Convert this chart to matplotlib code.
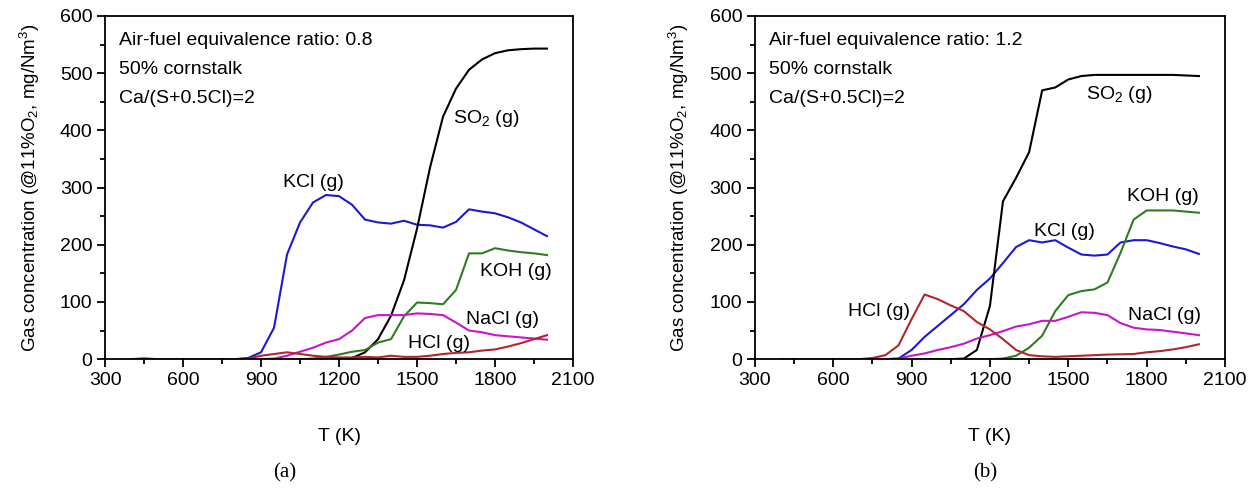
import numpy as np
import matplotlib
matplotlib.use('Agg')
import matplotlib.pyplot as plt
from matplotlib.ticker import MultipleLocator

plt.rcParams['font.family'] = ['Liberation Sans', 'DejaVu Sans']
plt.rcParams['mathtext.default'] = 'regular'

# temperature grid (K)
T = [400, 450, 500, 550, 600, 650, 700, 750, 800, 850, 900, 950, 1000, 1050,
     1100, 1150, 1200, 1250, 1300, 1350, 1400, 1450, 1500, 1550, 1600, 1650,
     1700, 1750, 1800, 1850, 1900, 1950, 2000]

# (a) air-fuel equivalence ratio 0.8
kcl_a = [0, 0, 0, 0, 0, 0, 0, 0, 0, 2, 12, 55, 183, 239, 274, 287, 285, 270,
         244, 239, 237, 242, 235, 234, 230, 240, 262, 258, 255, 248, 239, 227, 215]
so2_a = [0, 0, 0, 0, 0, 0, 0, 0, 0, 0, 0, 0, 0, 0, 0, 0, 0.5, 2, 12, 35, 76,
         138, 228, 335, 424, 473, 506, 524, 535, 540, 542, 543, 543]
koh_a = [0, 0, 0, 0, 0, 0, 0, 0, 0, 0, 0, 0, 0, 0, 1, 4, 8, 13, 16, 29, 35,
         75, 99, 98, 96, 121, 185, 185, 194, 190, 187, 185, 182]
nacl_a = [0, 1, 0, 0, 0, 0, 0, 0, 0, 0, 0, 1, 6, 13, 20, 29, 35, 50, 72, 77,
          77, 77, 80, 79, 77, 64, 50, 47, 42, 40, 38, 36, 34]
hcl_a = [0, 1, 0, 0, 0, 0, 0, 0, 0, 1, 6, 9, 12, 9, 6, 4, 3, 3, 4, 3, 6, 4, 4,
         6, 9, 11, 12, 15, 17, 22, 28, 35, 42]

# (b) air-fuel equivalence ratio 1.2
so2_b = [0, 0, 0, 0, 0, 0, 0, 0, 0, 0, 0, 0, 0, 0, 1, 16, 93, 276, 317, 362,
         470, 475, 489, 495, 497, 497, 497, 497, 497, 497, 497, 496, 495]
kcl_b = [0, 0, 0, 0, 0, 0, 0, 0, 0, 1, 16, 39, 58, 77, 96, 121, 141, 168, 196,
         208, 204, 208, 195, 183, 181, 183, 204, 208, 208, 203, 197, 192, 184]
hcl_b = [0, 0, 0, 0, 0, 0, 0, 2, 7, 24, 70, 113, 105, 94, 84, 65, 52, 35, 16,
         7, 5, 4, 5, 6, 7, 8, 8.5, 9, 12, 14, 17, 21, 26]
nacl_b = [0, 0, 0, 0, 0, 0, 0, 0, 0, 1, 6, 10, 16, 21, 27, 36, 42, 49, 57, 61,
          67, 67, 74, 82, 81, 77, 63, 55, 52, 51, 48, 45, 42]
koh_b = [0, 0, 0, 0, 0, 0, 0, 0, 0, 0, 0, 0, 0, 0, 0, 0, 0, 1, 6, 20, 41, 84,
         112, 119, 122, 134, 186, 244, 260, 260, 260, 258, 256]

c_kcl = '#1a1ad2'
c_so2 = 'black'
c_koh = '#2f7d1f'
c_nacl = '#c418c8'
c_hcl = '#b3262a'

fig = plt.figure(figsize=(12.58, 4.92), dpi=100)
ax1 = fig.add_axes([0.0835, 0.270, 0.372, 0.6975])
ax2 = fig.add_axes([0.600, 0.270, 0.3738, 0.6975])

panels = [
    (ax1, '0.8', [kcl_a, so2_a, koh_a, nacl_a, hcl_a],
     {'KCl (g)': (985, 308), 'SO$_2$ (g)': (1640, 421), 'KOH (g)': (1742, 153),
      'NaCl (g)': (1688, 69), 'HCl (g)': (1466, 28)}),
    (ax2, '1.2', [kcl_b, so2_b, koh_b, nacl_b, hcl_b],
     {'SO$_2$ (g)': (1568, 462), 'KOH (g)': (1726, 285), 'KCl (g)': (1370, 224),
      'HCl (g)': (657, 84), 'NaCl (g)': (1730, 77)}),
]
colors = [c_kcl, c_so2, c_koh, c_nacl, c_hcl]

for ax, ratio, series, labels in panels:
    for ys, c in zip(series, colors):
        ax.plot(T, ys, color=c, lw=1.5)
    ax.set_xlim(300, 2100)
    ax.set_ylim(0, 600)
    ax.xaxis.set_major_locator(MultipleLocator(300))
    ax.xaxis.set_minor_locator(MultipleLocator(150))
    ax.yaxis.set_major_locator(MultipleLocator(100))
    ax.yaxis.set_minor_locator(MultipleLocator(50))
    ax.tick_params(which='major', direction='out', length=6, width=1.3,
                   labelsize=14, pad=3)
    ax.tick_params(which='minor', direction='out', length=3.5, width=1.3)
    for s in ax.spines.values():
        s.set_linewidth(1.3)
    ax.set_xlabel('T (K)', fontsize=14, labelpad=28)
    ax.set_ylabel('Gas concentration (@11%O$_2$, mg/Nm$^3$)', fontsize=13.5, labelpad=13)
    ax.text(0.03, 0.93, 'Air-fuel equivalence ratio: ' + ratio, transform=ax.transAxes,
            fontsize=14, va='center')
    ax.text(0.03, 0.845, '50% cornstalk', transform=ax.transAxes, fontsize=14, va='center')
    ax.text(0.03, 0.76, 'Ca/(S+0.5Cl)=2', transform=ax.transAxes, fontsize=14, va='center')
    for txt, (x, y) in labels.items():
        ax.text(x, y, txt, fontsize=14, va='center', ha='left')

fig.text(0.2265, 0.03, '(a)', family='Liberation Serif', fontsize=15, ha='center')
fig.text(0.783, 0.03, '(b)', family='Liberation Serif', fontsize=15, ha='center')

fig.savefig('out.png', dpi=100)
